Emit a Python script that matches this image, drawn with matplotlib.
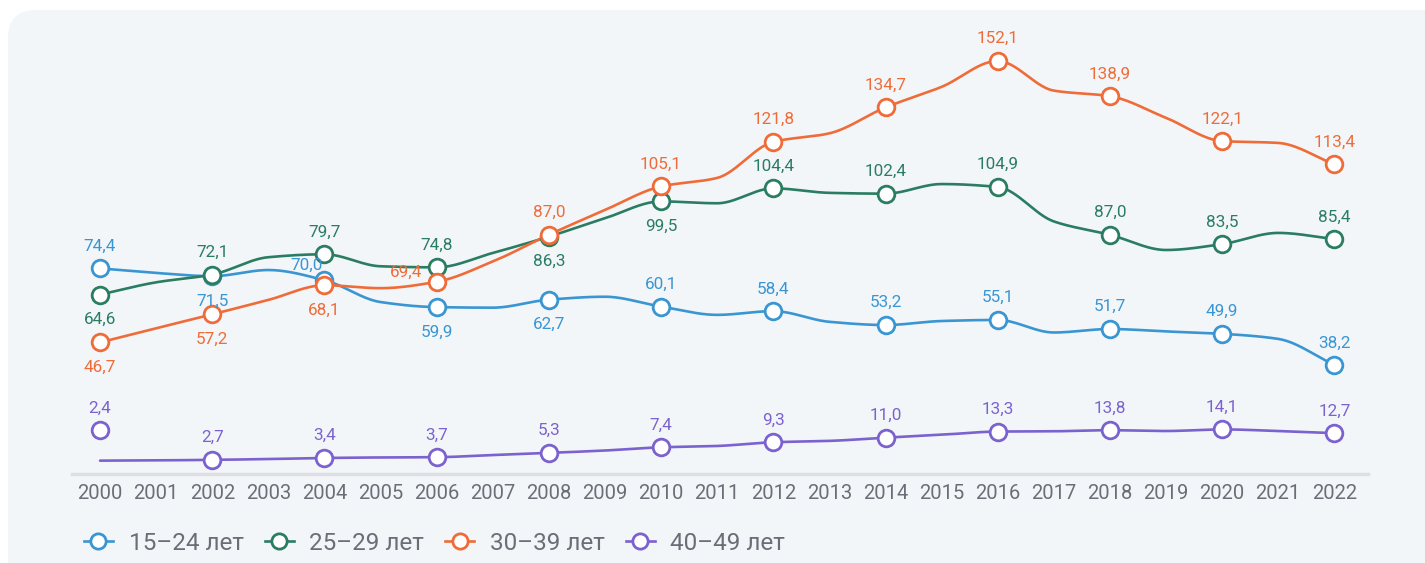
import matplotlib
matplotlib.use('Agg')
import matplotlib.pyplot as plt
from matplotlib.patches import FancyBboxPatch
from matplotlib.lines import Line2D
import numpy as np

plt.rcParams['font.family'] = ['Roboto', 'DejaVu Sans']

years = list(range(2000, 2023))
labels = ['15–24 лет', '25–29 лет', '30–39 лет', '40–49 лет']
colors = ['#3a96d2', '#2a7d61', '#ef6c39', '#7b62cf']

v15_24 = [74.4, 72.7, 71.5, 73.8, 70.0, 61.8, 59.9, 59.7, 62.7, 63.8, 60.1, 57.0,
          58.4, 54.4, 53.2, 54.7, 55.1, 50.4, 51.7, 50.8, 49.9, 48.0, 38.2]
v25_29 = [64.6, 69.2, 72.1, 78.6, 79.7, 75.2, 74.8, 80.2, 86.3, 93.2, 99.5, 98.8,
          104.4, 102.7, 102.4, 106.0, 104.9, 92.0, 87.0, 81.3, 83.5, 87.7, 85.4]
v30_39 = [46.7, 52.0, 57.2, 62.6, 68.1, 67.0, 69.4, 77.0, 87.0, 96.3, 105.1, 108.3,
          121.8, 125.0, 134.7, 142.4, 152.1, 141.0, 138.9, 130.8, 122.1, 121.4, 113.4]
v40_49 = [2.4, 2.5, 2.7, 3.0, 3.4, 3.6, 3.7, 4.5, 5.3, 6.2, 7.4, 7.9,
          9.3, 9.8, 11.0, 12.1, 13.3, 13.4, 13.8, 13.5, 14.1, 13.5, 12.7]
series = [v15_24, v25_29, v30_39, v40_49]

# marker of 40-49 in 2000 is drawn off the line in the original
marker_40_49_2000 = 13.7

# labels placed under the marker: (series index, year)
below = {(0, 2002), (1, 2000), (2, 2000), (2, 2002), (2, 2004),
         (0, 2006), (0, 2008), (1, 2008), (1, 2010)}
# labels with their own offset (points)
nudged = {(0, 2004): (-13, 11), (2, 2006): (-22, 6.5)}


def monotone(x, y, n=30):
    x = np.asarray(x, float); y = np.asarray(y, float)
    h = np.diff(x); d = np.diff(y) / h
    m = np.zeros_like(y)
    m[0], m[-1] = d[0], d[-1]
    for i in range(1, len(y) - 1):
        if d[i - 1] * d[i] <= 0:
            m[i] = 0
        else:
            m[i] = 3 * (h[i - 1] + h[i]) / ((2 * h[i] + h[i - 1]) / d[i - 1] + (h[i] + 2 * h[i - 1]) / d[i])
    xs, ys = [], []
    for i in range(len(h)):
        t = np.linspace(0, 1, n, endpoint=False)
        h00 = 2 * t**3 - 3 * t**2 + 1; h10 = t**3 - 2 * t**2 + t
        h01 = -2 * t**3 + 3 * t**2; h11 = t**3 - t**2
        xs.append(x[i] + t * h[i])
        ys.append(h00 * y[i] + h10 * h[i] * m[i] + h01 * y[i + 1] + h11 * h[i] * m[i + 1])
    xs.append([x[-1]]); ys.append([y[-1]])
    return np.concatenate(xs), np.concatenate(ys)


fig = plt.figure(figsize=(14.25, 5.63), dpi=100)
fig.patches.append(FancyBboxPatch((0.08, -1.0), 16, 6.53,
                                  boxstyle='round,pad=0,rounding_size=0.28',
                                  transform=fig.dpi_scale_trans, facecolor='#f3f6f9',
                                  edgecolor='none', zorder=-5))

ax = fig.add_axes([72 / 1425, 1 - 474 / 563, (1368 - 72) / 1425, (474 - 30) / 563])
ax.set_zorder(2)
ax.set_facecolor('none')
ax.set_xlim(1999.5, 2022.6)
ax.set_ylim(-2.6, 163.7)

for si, (vals, c) in enumerate(zip(series, colors)):
    sx, sy = monotone(years, vals)
    ax.plot(sx, sy, color=c, lw=1.9, zorder=2 + si, solid_capstyle='round')
    for yr, v in zip(years, vals):
        if yr % 2:
            continue
        my = marker_40_49_2000 if (si == 3 and yr == 2000) else v
        ax.plot(yr, my, 'o', ms=12, mfc='white', mec=c, mew=2.0, zorder=6 + si)
        txt = f'{v:.1f}'.replace('.', ',')
        off = nudged.get((si, yr), (0, -18 if (si, yr) in below else 16))
        ax.annotate(txt, (yr, my), xytext=off, textcoords='offset points',
                    ha='center', va='center', fontsize=12.3, color=c, zorder=12)

for s in ['top', 'right', 'left']:
    ax.spines[s].set_visible(False)
ax.spines['bottom'].set_color('#dedfe2')
ax.spines['bottom'].set_linewidth(2.5)
ax.set_yticks([])
ax.set_xticks(years)
ax.set_xticklabels([str(y) for y in years])
ax.tick_params(axis='x', length=0, pad=7, labelsize=14.5, labelcolor='#6d6d77')

handles = [Line2D([0], [0], color=c, lw=1.9, marker='o', ms=11, mfc='white', mec=c, mew=2.0)
           for c in colors]
fig.legend(handles, labels, loc='center left', bbox_to_anchor=(62 / 1425, 1 - 543 / 563),
           ncol=4, frameon=False, fontsize=17.5, handlelength=1.2, handletextpad=0.65,
           columnspacing=0.85, labelcolor='#6d6d77')

fig.savefig('out.png', dpi=100, facecolor='white')
